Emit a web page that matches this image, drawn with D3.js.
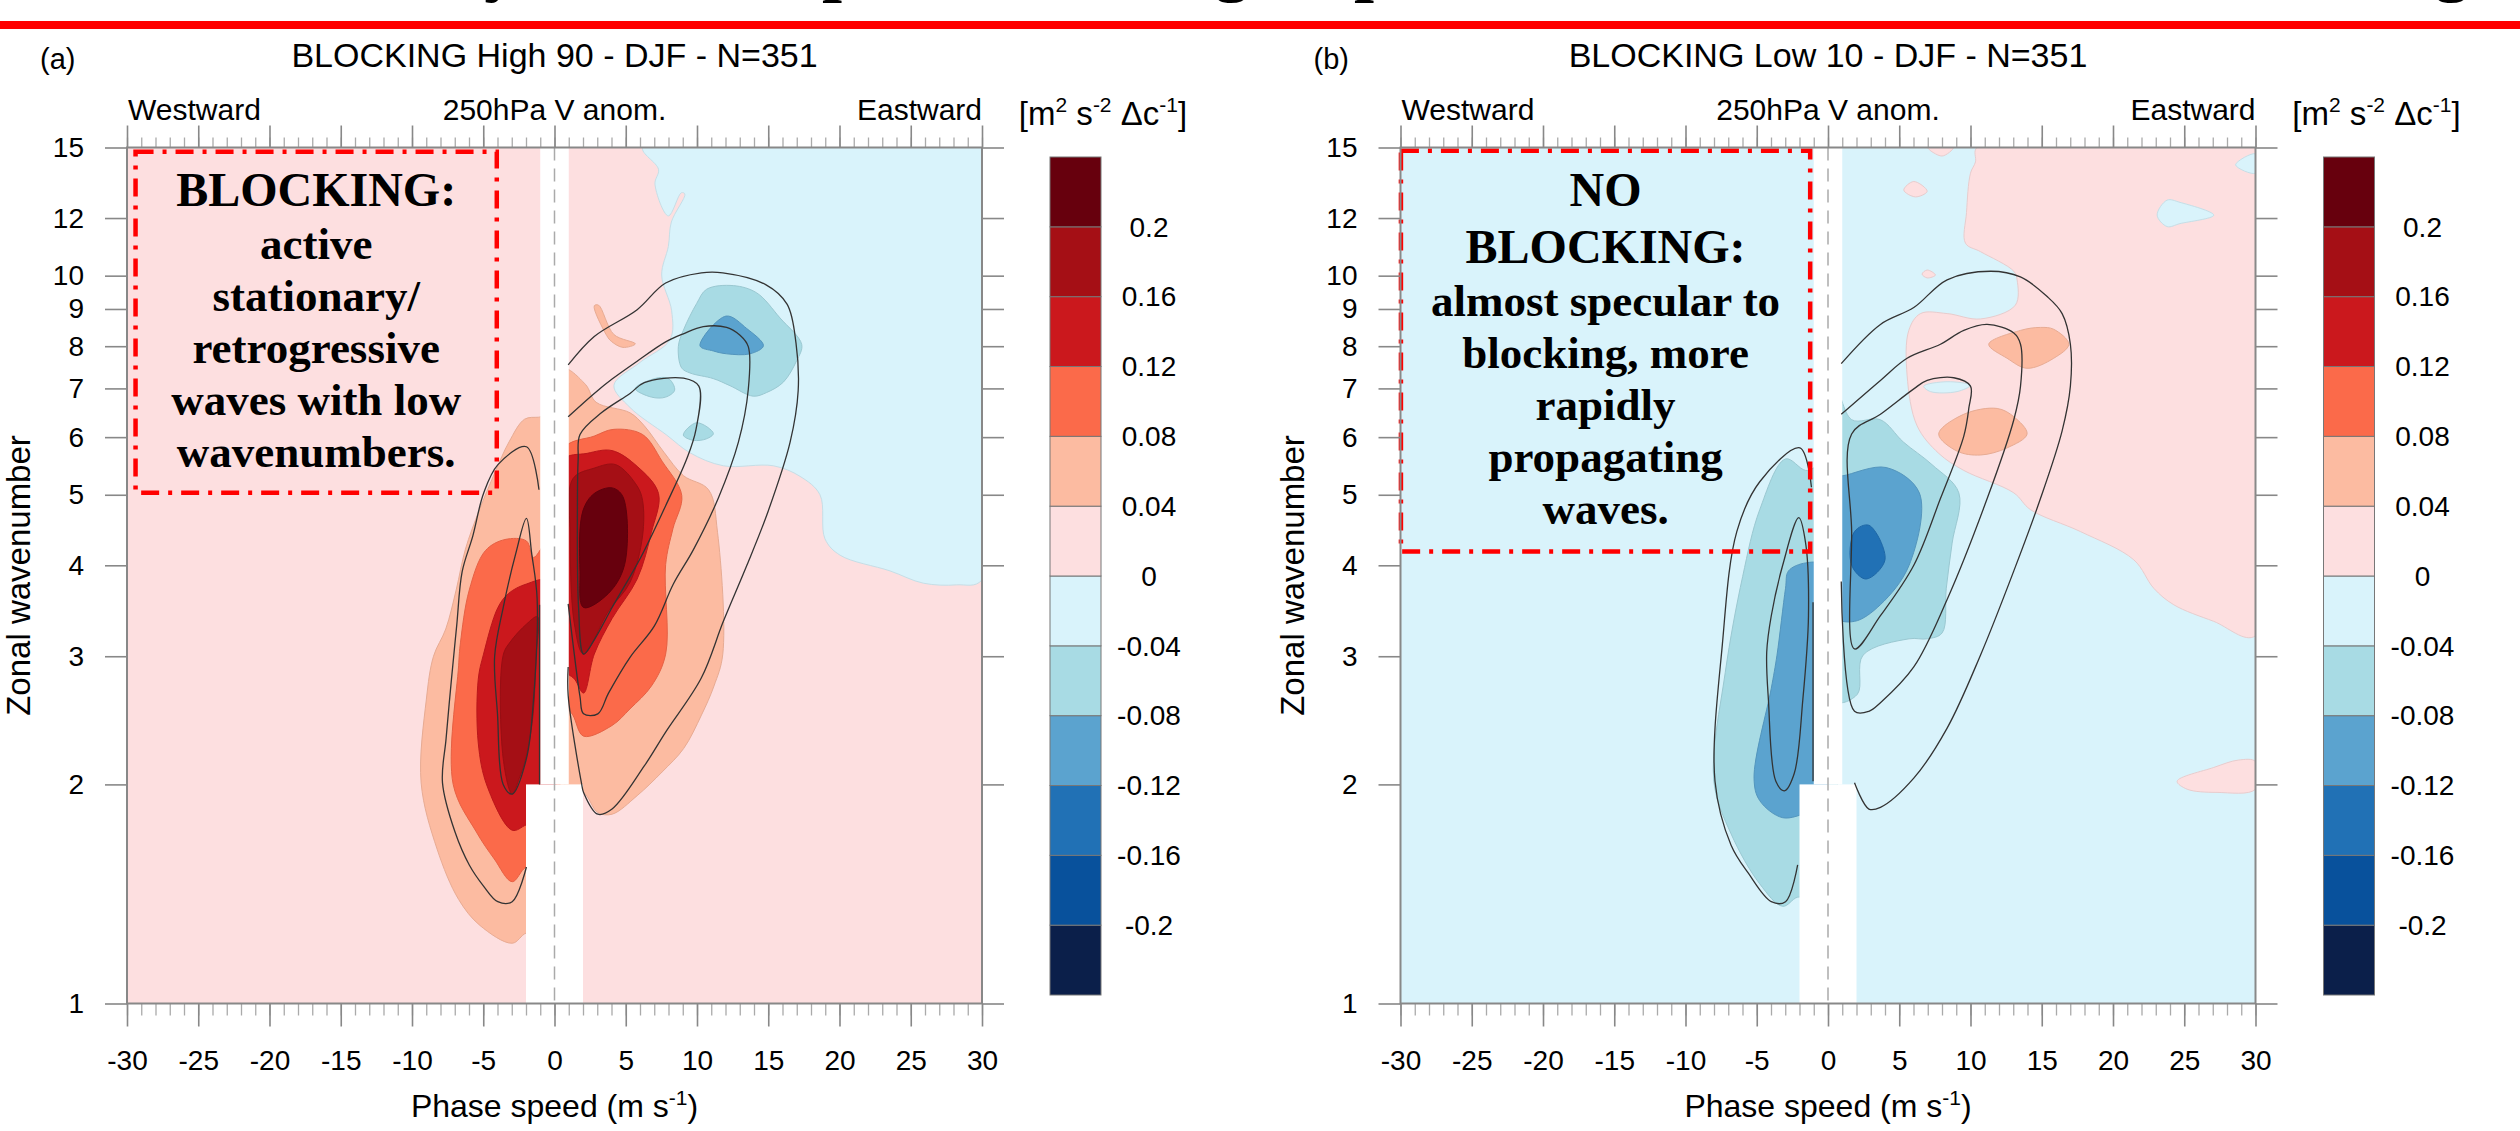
<!DOCTYPE html>
<html>
<head>
<meta charset="utf-8">
<script src="https://cdn.jsdelivr.net/npm/d3@7"></script>
<style>
  body { margin: 0; background: #fff; }
  svg { display: block; }
  text { font-family: "Liberation Sans", Arial, sans-serif; fill: #000; }
  .note { font-family: "Liberation Serif", "Times New Roman", serif; font-weight: bold; }
</style>
</head>
<body>
<svg id="chart" width="2520" height="1131"></svg>
<script>
// shading intervals, m2 s-2 per unit phase speed
const levels = [-0.2, -0.16, -0.12, -0.08, -0.04, 0, 0.04, 0.08, 0.12, 0.16, 0.2];
const levelColors = ["#0b1f4a", "#08519c", "#2171b5", "#5ba3cf", "#a8dbe4", "#d9f3fb",
                     "#fddfe0", "#fcbba1", "#fb6a4a", "#cb181d", "#a50f15", "#67000d"];
const speedTicks = [-30, -25, -20, -15, -10, -5, 0, 5, 10, 15, 20, 25, 30];
const waveTicks = [1, 2, 3, 4, 5, 6, 7, 8, 9, 10, 12, 15];

// phase speeds with no data (white gap around c = 0)
const gapSpeeds = [
  { c0: -1, c1: 1, k0: 2, k1: 15 },
  { c0: -2, c1: 2, k0: 1, k1: 2 }
];

// (a) BLOCKING High 90: shaded regions [phase speed, wavenumber], v = value inside
const highBackground = 0.02;
const highFills = [
  { v: -0.02, pts: [[6.2,15],[7.3,14.0],[7.05,13.36],[7.99,12.08],[8.9,13.0],[9.15,12.95],[8.2,11.85],[7.99,10.97],[7.52,10.02],[8.22,8.95],[8.11,8.17],[6.0,7.6],[4.17,7.07],[5.3,6.59],[7.87,6.04],[9.51,5.71],[11.85,5.48],[15.36,5.48],[17.23,5.30],[18.63,5.00],[18.98,4.35],[20.04,4.13],[23.54,3.93],[25.88,3.78],[28.22,3.76],[30,3.82],[30,15]] },
  { v: 0.06, pts: [[2.79,9.09],[3.09,9.11],[4.17,8.30],[5.67,8.06],[4.80,7.97],[4.0,8.12],[3.67,8.27]] },
  { v: -0.06, pts: [[10.68,9.58],[12.55,9.69],[14.19,9.47],[15.82,8.75],[17.35,8.04],[16.99,7.64],[16.06,7.14],[14.89,6.91],[13.95,6.83],[12.32,7.06],[11.15,7.22],[9.51,7.35],[8.92,7.47],[8.69,7.99],[9.04,8.41],[9.98,9.16]] },
  { v: -0.06, pts: [[5.67,7.00],[7.30,7.24],[8.05,7.21],[8.43,6.96],[7.80,6.81],[6.80,6.81]] },
  { v: -0.06, pts: [[9.04,6.04],[9.98,6.28],[11.15,6.07],[10.68,5.97],[9.74,5.94]] },
  { v: -0.10, pts: [[10.21,8.01],[12.04,8.80],[13.49,8.46],[14.66,8.01],[13.72,7.81],[12.08,7.81],[11.15,7.88]] },
  { v: 0.06, pts: [[0.5,7.45],[2.17,7.09],[2.92,6.70],[5.30,6.48],[6.30,6.22],[7.68,5.72],[9.06,5.31],[10.81,5.08],[11.44,4.44],[11.81,3.02],[11.19,2.73],[10.31,2.49],[9.06,2.24],[7.55,2.08],[5.80,1.93],[4.04,1.82],[3.04,1.83],[2.04,1.95],[0.5,2.0]] },
  { v: 0.10, pts: [[0.5,5.75],[2.79,6.02],[4.17,6.15],[6.18,6.05],[7.55,5.56],[8.93,4.99],[8.31,4.49],[7.80,4.01],[7.80,3.02],[6.80,2.73],[5.30,2.54],[4.04,2.41],[2.04,2.33],[1.29,2.49],[0.5,2.62]] },
  { v: 0.14, pts: [[0.5,5.56],[2.29,5.70],[4.04,5.75],[5.80,5.47],[7.30,5.02],[6.80,4.44],[5.80,3.83],[4.04,3.38],[2.79,3.02],[2.04,2.67],[1.41,2.79],[0.5,2.9]] },
  { v: 0.18, pts: [[1.29,5.26],[2.79,5.44],[4.30,5.50],[5.80,5.14],[6.18,4.91],[6.18,4.39],[5.30,3.79],[3.79,3.46],[2.04,3.02],[1.41,3.31],[1.1,4.39]] },
  { v: 0.22, pts: [[1.99,4.75],[2.79,5.02],[4.04,5.11],[4.80,4.97],[4.92,4.01],[3.79,3.66],[2.04,3.50],[1.79,3.92]] },
  { v: 0.06, pts: [[-0.5,6.40],[-1.12,6.39],[-2.10,6.35],[-3.19,5.91],[-4.17,5.37],[-5.3,4.75],[-6.25,4.21],[-6.9,3.70],[-7.63,3.27],[-8.49,3.00],[-8.99,2.62],[-9.36,2.01],[-8.24,1.63],[-6.73,1.39],[-5.23,1.28],[-2.97,1.21],[-1.97,1.25],[-0.5,1.25]] },
  { v: 0.10, pts: [[-0.5,4.3],[-1.47,4.10],[-1.97,4.32],[-3.47,4.34],[-4.85,4.19],[-5.98,3.70],[-6.6,3.13],[-6.73,2.91],[-7.11,2.0],[-5.48,1.72],[-4.23,1.58],[-2.97,1.47],[-1.97,1.54],[-0.5,1.54]] },
  { v: 0.14, pts: [[-0.5,3.8],[-1.97,3.77],[-3.22,3.66],[-3.97,3.50],[-4.98,3.02],[-5.35,2.79],[-5.35,2.28],[-4.73,1.99],[-2.97,1.73],[-1.97,1.76],[-0.5,1.8]] },
  { v: 0.18, pts: [[-1.2,3.4],[-1.97,3.32],[-3.1,3.14],[-3.6,3.01],[-3.6,2.17],[-2.97,1.94],[-2.47,2.04],[-1.97,2.19],[-1.5,2.5],[-1.3,3.0]] }
];
// (a) black contours of the reference spectrum
const highLines = [
  [[0.96,7.54],[2.79,8.25],[5.80,8.98],[7.80,9.77],[10.31,10.09],[11.81,10.09],[14.82,9.72],[16.33,9.13],[16.95,8.07],[17.1,6.95],[16.53,5.90],[15.0,4.75],[13.5,4.0],[11.85,3.35],[10.3,2.8],[7.80,2.36],[6.30,2.12],[4.04,1.85],[3.04,1.82],[2.04,1.95],[1.91,2.0],[0.96,2.65],[0.96,2.9]],
  [[0.96,6.40],[2.79,6.89],[4.04,7.21],[5.80,7.63],[7.80,8.11],[9.04,8.32],[10.44,8.51],[12.08,8.49],[13.02,8.28],[13.60,7.99],[13.60,6.98],[12.9,5.9],[11.5,4.95],[9.74,4.20],[8.34,3.77],[7.0,3.30],[5.30,2.99],[3.79,2.67],[3.04,2.50],[2.04,2.50],[1.79,2.64],[1.29,3.13],[0.96,3.54]],
  [[1.79,6.05],[3.29,6.48],[5.30,6.89],[6.30,7.13],[9.06,7.23],[10.13,7.05],[9.93,6.15],[9.31,5.62],[7.80,4.83],[6.05,4.10],[4.04,3.50],[2.79,3.16],[2.04,3.02],[1.69,3.50],[1.61,4.91],[1.66,5.6],[1.79,6.05]],
  [[-1.09,5.08],[-1.97,5.82],[-3.97,5.50],[-4.98,5.02],[-5.73,4.39],[-6.48,3.92],[-6.86,3.31],[-7.23,2.79],[-7.61,2.31],[-7.86,2.01],[-6.98,1.72],[-5.98,1.55],[-4.98,1.45],[-3.98,1.38],[-2.97,1.38],[-1.97,1.54]],
  [[-1.97,4.64],[-2.72,4.15],[-3.60,3.50],[-4.2,3.0],[-4.0,2.5],[-3.6,2.0],[-2.97,1.94],[-1.97,2.17],[-1.47,2.62],[-1.22,3.60],[-1.6,4.15],[-1.97,4.64]],
  [[-1.05,3.53],[-1.05,2.0]]
];

// (b) BLOCKING Low 10
const lowBackground = -0.02;
const lowFills = [
  { v: 0.02, pts: [[10.46,15],[10.35,14.33],[10.0,13.83],[9.72,12.21],[9.65,11.08],[10.70,10.79],[13.04,10.14],[13.27,9.87],[13.15,9.11],[10.70,8.72],[8.36,8.87],[6.49,8.87],[5.67,8.41],[5.55,7.30],[6.25,6.22],[7.77,5.70],[9.53,5.40],[13.04,5.03],[14.21,4.77],[17.72,4.45],[21.46,4.07],[22.86,3.72],[24.27,3.53],[27.07,3.35],[30,3.20],[30,15]] },
  { v: 0.02, pts: [[5.32,13.11],[6.02,13.47],[6.96,13.06],[6.14,12.83]] },
  { v: 0.02, pts: [[6.6,10.05],[6.96,10.18],[7.54,10.02],[6.96,9.93]] },
  { v: 0.02, pts: [[24.5,2.02],[27.07,2.11],[28.8,2.16],[30,2.15],[30,1.97],[27.3,1.95],[25.2,1.97]] },
  { v: 0.02, pts: [[7.0,15],[8.0,14.6],[8.8,15]] },
  { v: -0.02, pts: [[28.6,14.2],[30,14.7],[30,13.83]] },
  { v: -0.02, pts: [[23.1,12.11],[23.8,12.70],[24.7,12.61],[27.07,12.11],[24.7,11.79],[23.8,11.68]] },
  { v: -0.02, pts: [[6.72,7.05],[8.36,7.15],[10.0,7.07],[9.06,6.93],[7.19,6.93]] },
  { v: 0.06, pts: [[11.28,8.05],[13.51,8.41],[14.91,8.49],[15.84,8.44],[16.90,8.05],[15.84,7.70],[13.97,7.46],[12.57,7.70]] },
  { v: 0.06, pts: [[7.77,6.06],[9.53,6.45],[11.87,6.57],[13.04,6.40],[13.97,6.06],[12.57,5.80],[10.70,5.67],[9.06,5.74]] },
  { v: -0.06, pts: [[-0.5,5.45],[-1.57,5.40],[-2.98,5.60],[-4.79,4.77],[-5.99,3.86],[-7.21,2.85],[-8.01,2.02],[-6.80,1.71],[-4.79,1.46],[-3.18,1.36],[-2.13,1.40],[-0.5,1.4]] },
  { v: -0.10, pts: [[-0.5,4.0],[-1.57,4.03],[-2.77,3.93],[-2.98,3.72],[-3.58,3.01],[-3.98,2.71],[-5.19,2.04],[-4.79,1.90],[-3.18,1.80],[-1.37,1.83],[-0.5,1.85]] },
  { v: -0.06, pts: [[0.5,7.05],[1.66,6.34],[3.67,6.34],[5.28,5.91],[7.30,5.50],[9.18,5.03],[8.71,4.29],[8.3,3.72],[8.01,3.23],[6.96,3.17],[5.69,3.17],[2.46,3.01],[2.06,2.66],[0.5,2.6]] },
  { v: -0.10, pts: [[0.5,5.3],[1.05,5.31],[4.08,5.45],[6.41,5.03],[5.69,4.0],[3.67,3.53],[1.86,3.35],[0.5,3.4]] },
  { v: -0.14, pts: [[1.86,4.45],[2.87,4.54],[4.0,4.07],[2.67,3.83],[1.66,4.0]] }
];
const lowLines = [
  [[0.93,7.57],[3.68,8.57],[6.02,9.04],[8.36,9.87],[11.40,10.14],[13.50,9.96],[15.38,9.36],[16.43,8.87],[17.01,8.05],[17.01,7.05],[16.43,6.12],[14.91,4.94],[13.04,3.93],[10.70,3.01],[8.36,2.39],[6.02,2.04],[3.68,1.86],[2.87,1.85],[1.86,2.01]],
  [[0.93,6.45],[3.68,7.18],[5.55,7.70],[7.89,8.05],[9.53,8.41],[11.17,8.57],[13.04,8.34],[13.51,8.05],[13.51,7.05],[13.04,6.34],[11.17,4.94],[8.36,3.59],[6.02,2.90],[3.68,2.59],[2.87,2.52],[1.86,2.52],[0.93,3.80]],
  [[1.66,6.06],[3.68,6.45],[6.02,6.99],[6.96,7.18],[8.83,7.24],[10.0,7.05],[9.88,6.57],[9.53,6.02],[7.89,4.94],[6.02,4.00],[3.68,3.41],[1.86,3.07],[1.66,4.45],[1.66,6.06]],
  [[-1.16,5.12],[-1.97,5.80],[-4.79,5.21],[-6.40,4.45],[-7.41,3.12],[-7.93,2.02],[-6.80,1.65],[-5.59,1.51],[-3.98,1.38],[-2.98,1.38],[-2.13,1.55]],
  [[-2.05,4.65],[-3.18,4.0],[-3.98,3.41],[-4.30,3.04],[-4.18,2.61],[-3.66,2.02],[-3.06,1.96],[-2.37,2.07],[-1.77,2.61],[-1.37,3.41],[-1.57,4.29],[-2.05,4.65]],
  [[-1.05,3.56],[-1.05,2.02]]
];

const highNote = { heads: ["BLOCKING:"], body: ["active", "stationary/", "retrogressive", "waves with low", "wavenumbers."] };
const lowNote = { heads: ["NO", "BLOCKING:"], body: ["almost specular to", "blocking, more", "rapidly", "propagating", "waves."] };

const svg = d3.select("#chart");
const W = 855, H = 856, plotTop = 147.5;
const color = d3.scaleThreshold().domain(levels).range(levelColors);

// cut-off slide heading and its red rule
svg.append("rect").attr("x", 0).attr("y", 21).attr("width", 2520).attr("height", 8).attr("fill", "#ff0000");
const head = svg.append("g").attr("font-size", 72);
[["y", 484], ["p", 822], ["g", 1214], ["p", 1354], ["g", 2434]].forEach(([t, px]) => {
  head.append("text").attr("class", "note").attr("x", px).attr("y", -12).text(t);
});

function drawPanel(p) {
  const x = d3.scaleLinear().domain([-30, 30]).range([0, W]);
  const y = d3.scaleLog().domain([1, 15]).range([H, 0]);
  const g = svg.append("g").attr("transform", `translate(${p.left},${plotTop})`);

  const clipId = "clip-" + p.id;
  g.append("clipPath").attr("id", clipId).append("rect").attr("width", W).attr("height", H);
  const plot = g.append("g").attr("clip-path", `url(#${clipId})`);

  plot.append("rect").attr("width", W).attr("height", H).attr("fill", color(p.background));

  const area = d3.line().x(d => x(d[0])).y(d => y(d[1])).curve(d3.curveCatmullRomClosed.alpha(0.5));
  plot.selectAll("path.fill").data(p.fills).join("path")
    .attr("class", "fill")
    .attr("d", d => area(d.pts))
    .attr("fill", d => color(d.v))
    .attr("stroke", d => d3.color(color(d.v)).darker(0.25))
    .attr("stroke-width", 1);

  plot.selectAll("rect.gap").data(gapSpeeds).join("rect")
    .attr("class", "gap")
    .attr("x", d => x(d.c0))
    .attr("width", d => x(d.c1) - x(d.c0))
    .attr("y", d => y(d.k1))
    .attr("height", d => y(d.k0) - y(d.k1))
    .attr("fill", "#fff");

  const openLine = d3.line().x(d => x(d[0])).y(d => y(d[1])).curve(d3.curveCatmullRom.alpha(0.5));
  const closedLine = d3.line().x(d => x(d[0])).y(d => y(d[1])).curve(d3.curveCatmullRomClosed.alpha(0.5));
  plot.selectAll("path.ref").data(p.lines).join("path")
    .attr("class", "ref")
    .attr("d", d => {
      const a = d[0], b = d[d.length - 1];
      return (a[0] === b[0] && a[1] === b[1]) ? closedLine(d.slice(0, -1)) : openLine(d);
    })
    .attr("fill", "none")
    .attr("stroke", "#333")
    .attr("stroke-width", 1.3);

  plot.append("line")
    .attr("x1", x(0)).attr("x2", x(0)).attr("y1", 0).attr("y2", H)
    .attr("stroke", "#aaa").attr("stroke-width", 1.5).attr("stroke-dasharray", "13,8");

  // annotation box
  const bx0 = x(p.box[0]), bx1 = x(p.box[1]), by0 = y(p.box[3]), by1 = y(p.box[2]);
  g.append("rect")
    .attr("x", bx0).attr("y", by0).attr("width", bx1 - bx0).attr("height", by1 - by0)
    .attr("fill", "none").attr("stroke", "#ff0000").attr("stroke-width", 4.5)
    .attr("stroke-dasharray", "18,9,4,9");
  const cx = (bx0 + bx1) / 2;
  p.note.heads.forEach((t, i) => {
    g.append("text").attr("class", "note").attr("x", cx).attr("y", 206 - plotTop + 57 * i)
      .attr("text-anchor", "middle").attr("font-size", 48).text(t);
  });
  const bodyStart = 206 - plotTop + 57 * (p.note.heads.length - 1) + 53;
  p.note.body.forEach((t, i) => {
    g.append("text").attr("class", "note").attr("x", cx).attr("y", bodyStart + 52 * i)
      .attr("text-anchor", "middle").attr("font-size", 45).text(t);
  });

  // axes
  const styleAxis = (sel, col, w) => {
    sel.select(".domain").remove();
    sel.selectAll(".tick line").attr("stroke", col).attr("stroke-width", w);
    sel.selectAll(".tick text").attr("font-size", 28).attr("font-family", "Liberation Sans, Arial, sans-serif").attr("fill", "#000");
  };
  const minor = d3.range(-30, 31);
  g.append("g").attr("transform", `translate(0,${H})`)
    .call(d3.axisBottom(x).tickValues(minor).tickSize(12).tickFormat(""))
    .call(s => styleAxis(s, "#aaa", 1.3));
  g.append("g").attr("transform", `translate(0,${H})`)
    .call(d3.axisBottom(x).tickValues(speedTicks).tickSize(23).tickPadding(24).tickFormat(d => String(d)))
    .call(s => styleAxis(s, "#888", 1.6));
  g.append("g")
    .call(d3.axisTop(x).tickValues(minor).tickSize(10).tickFormat(""))
    .call(s => styleAxis(s, "#aaa", 1.3));
  g.append("g")
    .call(d3.axisTop(x).tickValues(speedTicks).tickSize(22).tickFormat(""))
    .call(s => styleAxis(s, "#888", 1.6));
  g.append("g")
    .call(d3.axisLeft(y).tickValues(waveTicks).tickSize(22).tickPadding(21).tickFormat(d => String(d)))
    .call(s => styleAxis(s, "#888", 1.6));
  g.append("g").attr("transform", `translate(${W},0)`)
    .call(d3.axisRight(y).tickValues(waveTicks).tickSize(22).tickFormat(""))
    .call(s => styleAxis(s, "#888", 1.6));
  g.append("rect").attr("width", W).attr("height", H)
    .attr("fill", "none").attr("stroke", "#888").attr("stroke-width", 2);

  // labels
  g.append("text").attr("x", -87).attr("y", 69 - plotTop).attr("font-size", 29).text(p.tag);
  g.append("text").attr("x", W / 2).attr("y", 67 - plotTop).attr("font-size", 34)
    .attr("text-anchor", "middle").text(p.title);
  g.append("text").attr("x", 1).attr("y", 120 - plotTop).attr("font-size", 30).text("Westward");
  g.append("text").attr("x", W / 2).attr("y", 120 - plotTop).attr("font-size", 30)
    .attr("text-anchor", "middle").text("250hPa V anom.");
  g.append("text").attr("x", W).attr("y", 120 - plotTop).attr("font-size", 30)
    .attr("text-anchor", "end").text("Eastward");

  const xl = g.append("text").attr("x", W / 2).attr("y", 1117 - plotTop).attr("font-size", 32)
    .attr("text-anchor", "middle");
  xl.append("tspan").text("Phase speed (m s");
  xl.append("tspan").attr("dy", -12).attr("font-size", 21).text("-1");
  xl.append("tspan").attr("dy", 12).text(")");

  g.append("text").attr("transform", `translate(-97,${H / 2}) rotate(-90)`)
    .attr("font-size", 33).attr("text-anchor", "middle").text("Zonal wavenumber");

  // colour bar
  const cbH = 838;
  const cbY = d3.scaleLinear().domain([0, levelColors.length]).range([cbH, 0]);
  const cb = svg.append("g").attr("transform", `translate(${p.left + W + 68},157)`);
  cb.selectAll("rect").data(levelColors).join("rect")
    .attr("x", 0).attr("width", 51)
    .attr("y", (d, i) => cbY(i + 1))
    .attr("height", (d, i) => cbY(i) - cbY(i + 1))
    .attr("fill", d => d)
    .attr("stroke", "#777").attr("stroke-width", 1);
  cb.selectAll("text").data(levels).join("text")
    .attr("x", 99).attr("y", (d, i) => cbY(i + 1)).attr("dy", "0.35em")
    .attr("text-anchor", "middle").attr("font-size", 28)
    .text(d => String(d));

  const un = svg.append("text").attr("x", p.left + W + 121).attr("y", 125)
    .attr("font-size", 33).attr("text-anchor", "middle");
  un.append("tspan").text("[m");
  un.append("tspan").attr("dy", -13).attr("font-size", 21).text("2");
  un.append("tspan").attr("dy", 13).text(" s");
  un.append("tspan").attr("dy", -13).attr("font-size", 21).text("-2");
  un.append("tspan").attr("dy", 13).text(" \u0394c");
  un.append("tspan").attr("dy", -13).attr("font-size", 21).text("-1");
  un.append("tspan").attr("dy", 13).text("]");
}

drawPanel({ id: "a", left: 127, tag: "(a)", title: "BLOCKING High 90 - DJF - N=351",
  background: highBackground, fills: highFills, lines: highLines,
  box: [-29.4, -4.05, 5.03, 14.8], note: highNote });
drawPanel({ id: "b", left: 1400.5, tag: "(b)", title: "BLOCKING Low 10 - DJF - N=351",
  background: lowBackground, fills: lowFills, lines: lowLines,
  box: [-29.97, -1.25, 4.18, 14.85], note: lowNote });
</script>
</body>
</html>
